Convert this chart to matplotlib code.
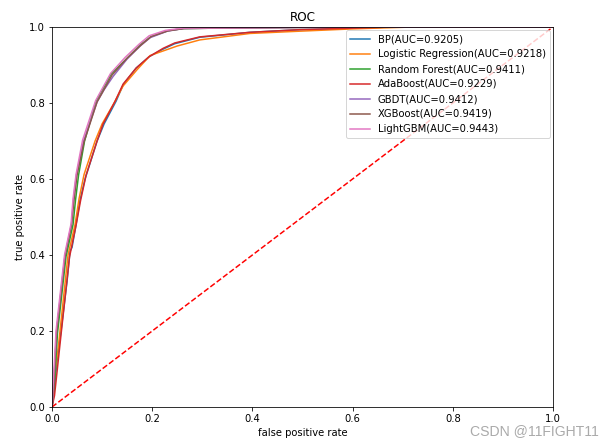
import matplotlib
matplotlib.use("Agg")
import matplotlib.pyplot as plt

# ROC points
bp_fpr = [0, 0.004, 0.010, 0.018, 0.030, 0.036, 0.040, 0.048, 0.056, 0.066, 0.072, 0.090, 0.104, 0.128, 0.142, 0.168, 0.194, 0.222, 0.245, 0.295, 0.395, 0.495, 0.600, 0.680, 1.0]
bp_tpr = [0, 0.040, 0.120, 0.200, 0.330, 0.410, 0.420, 0.480, 0.545, 0.600, 0.625, 0.700, 0.745, 0.805, 0.848, 0.892, 0.922, 0.942, 0.956, 0.973, 0.986, 0.993, 0.997, 1.0, 1.0]

lr_fpr = [0, 0.003, 0.012, 0.016, 0.032, 0.046, 0.054, 0.064, 0.086, 0.100, 0.124, 0.142, 0.170, 0.196, 0.250, 0.295, 0.395, 0.495, 0.600, 0.720, 1.0]
lr_tpr = [0, 0.060, 0.150, 0.200, 0.400, 0.480, 0.548, 0.612, 0.700, 0.745, 0.800, 0.845, 0.888, 0.925, 0.950, 0.966, 0.983, 0.989, 0.995, 1.0, 1.0]

rf_fpr = [0, 0.004, 0.011, 0.028, 0.042, 0.047, 0.053, 0.065, 0.088, 0.118, 0.150, 0.176, 0.198, 0.230, 0.262, 0.400, 0.600, 1.0]
rf_tpr = [0, 0.040, 0.195, 0.396, 0.480, 0.545, 0.610, 0.700, 0.805, 0.876, 0.918, 0.953, 0.975, 0.990, 0.996, 0.998, 1.0, 1.0]

ada_fpr = [0, 0.005, 0.018, 0.035, 0.048, 0.057, 0.068, 0.090, 0.102, 0.126, 0.142, 0.168, 0.194, 0.222, 0.245, 0.295, 0.395, 0.495, 0.600, 0.680, 1.0]
ada_tpr = [0, 0.030, 0.190, 0.395, 0.478, 0.543, 0.610, 0.700, 0.745, 0.805, 0.850, 0.892, 0.922, 0.944, 0.958, 0.974, 0.986, 0.993, 0.997, 1.0, 1.0]

gbdt_fpr = [0, 0.003, 0.009, 0.026, 0.039, 0.043, 0.049, 0.063, 0.090, 0.104, 0.122, 0.150, 0.176, 0.196, 0.230, 0.262, 0.400, 0.600, 1.0]
gbdt_tpr = [0, 0.050, 0.200, 0.400, 0.482, 0.548, 0.612, 0.700, 0.803, 0.835, 0.870, 0.916, 0.950, 0.972, 0.989, 0.996, 0.998, 1.0, 1.0]

xgb_fpr = [0, 0.003, 0.009, 0.026, 0.039, 0.044, 0.050, 0.064, 0.090, 0.120, 0.150, 0.178, 0.198, 0.232, 0.264, 0.400, 0.600, 1.0]
xgb_tpr = [0, 0.045, 0.195, 0.396, 0.480, 0.545, 0.610, 0.698, 0.803, 0.874, 0.918, 0.953, 0.975, 0.990, 0.996, 0.998, 1.0, 1.0]

lgb_fpr = [0, 0.002, 0.008, 0.025, 0.038, 0.042, 0.048, 0.061, 0.087, 0.117, 0.146, 0.174, 0.194, 0.226, 0.260, 0.395, 0.600, 1.0]
lgb_tpr = [0, 0.050, 0.200, 0.400, 0.482, 0.548, 0.612, 0.702, 0.806, 0.878, 0.920, 0.955, 0.977, 0.991, 0.997, 0.998, 1.0, 1.0]

names = ['BP', 'Logistic Regression', 'Random Forest', 'AdaBoost', 'GBDT', 'XGBoost', 'LightGBM']
aucs = [0.9205, 0.9218, 0.9411, 0.9229, 0.9412, 0.9419, 0.9443]
curves = [(bp_fpr, bp_tpr), (lr_fpr, lr_tpr), (rf_fpr, rf_tpr), (ada_fpr, ada_tpr),
          (gbdt_fpr, gbdt_tpr), (xgb_fpr, xgb_tpr), (lgb_fpr, lgb_tpr)]

fig = plt.figure(figsize=(613 / 72, 446 / 72), dpi=72)
ax = fig.add_axes([52 / 613, 39 / 446, 501 / 613, 380 / 446])

for name, auc, (fpr, tpr) in zip(names, aucs, curves):
    ax.plot(fpr, tpr, label='%s(AUC=%.4f)' % (name, auc))

ax.plot([0, 1], [0, 1], 'r--')
ax.set_xlim(0, 1)
ax.set_ylim(0, 1)
ax.set_title('ROC')
ax.set_xlabel('false positive rate')
ax.set_ylabel('true positive rate')
ax.legend(loc='upper right', borderaxespad=0.3)

# watermark
fig.text(0.976, 0.018, 'CSDN @11FIGHT11', ha='right', va='bottom',
         fontsize=14, color='#aaaaaa', family='Liberation Sans')

fig.savefig('out.png', dpi=72)
